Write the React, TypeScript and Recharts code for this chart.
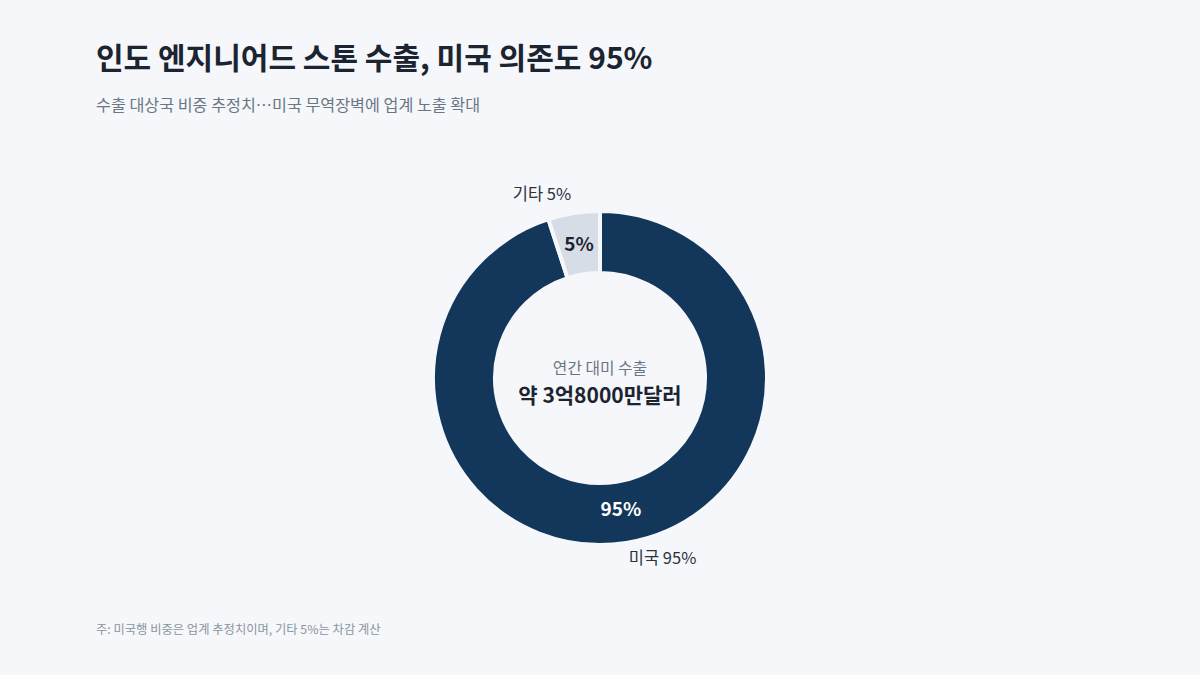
import React from "react";
import { PieChart, Pie, Cell } from "recharts";

const names = ["미국", "기타"];
const shares = [95, 5];
const colors = ["#12375a", "#d6dde6"];
const innerTextColors = ["#ffffff", "#1b2430"];

const data = names.map((n, i) => ({ name: n, value: shares[i] }));

const FONT = '"Noto Sans CJK KR", "Noto Sans", sans-serif';
const BG = "#f5f7fa";
const RAD = Math.PI / 180;

function renderLabel(props: any) {
  const { cx, cy, midAngle, outerRadius, index, name, value } = props;
  const cos = Math.cos(-midAngle * RAD);
  const sin = Math.sin(-midAngle * RAD);
  const rIn = 134;
  const rOut = outerRadius + 17;
  return (
    <g>
      <text
        x={cx + rIn * cos}
        y={cy + rIn * sin - 3}
        textAnchor="middle"
        dominantBaseline="central"
        fill={innerTextColors[index]}
        fontSize={19}
        fontWeight={700}
        fontFamily={FONT}
      >
        {value}%
      </text>
      <text
        x={cx + rOut * cos}
        y={cy + rOut * sin - 3}
        textAnchor={cos >= 0 ? "start" : "end"}
        dominantBaseline="central"
        fill="#2b333d"
        fontSize={16.5}
        fontFamily={FONT}
      >
        {name} {value}%
      </text>
    </g>
  );
}

export default function App() {
  return (
    <div
      style={{
        position: "fixed",
        left: 0,
        top: 0,
        width: 1200,
        height: 675,
        background: BG,
        fontFamily: FONT,
        overflow: "hidden",
      }}
    >
      <PieChart
        width={1200}
        height={675}
        margin={{ top: 0, right: 0, bottom: 0, left: 0 }}
        style={{ position: "absolute", left: 0, top: 0 }}
      >
        <Pie
          data={data}
          dataKey="value"
          nameKey="name"
          cx={600}
          cy={378}
          innerRadius={105}
          outerRadius={167}
          startAngle={90}
          endAngle={-270}
          stroke={BG}
          strokeWidth={4}
          label={renderLabel}
          labelLine={false}
          isAnimationActive={false}
        >
          {data.map((d, i) => (
            <Cell key={d.name} fill={colors[i]} />
          ))}
        </Pie>
        <text x={600} y={367} textAnchor="middle" dominantBaseline="central" fill="#6b7684" fontSize={15.8} fontFamily={FONT}>
          연간 대미 수출
        </text>
        <text x={600} y={394} textAnchor="middle" dominantBaseline="central" fill="#1b2430" fontSize={21} fontWeight={700} fontFamily={FONT}>
          약 3억8000만달러
        </text>
      </PieChart>
      <div style={{ position: "absolute", left: 96, top: 35, fontSize: 30, fontWeight: 700, color: "#1b2430", lineHeight: "42px" }}>
        인도 엔지니어드 스톤 수출, 미국 의존도 95%
      </div>
      <div style={{ position: "absolute", left: 96, top: 92, fontSize: 16.2, color: "#6b7684", lineHeight: "24px" }}>
        수출 대상국 비중 추정치…미국 무역장벽에 업계 노출 확대
      </div>
      <div style={{ position: "absolute", left: 96, top: 620, fontSize: 12.3, color: "#8b95a1", lineHeight: "18px" }}>
        주: 미국행 비중은 업계 추정치이며, 기타 5%는 차감 계산
      </div>
    </div>
  );
}
